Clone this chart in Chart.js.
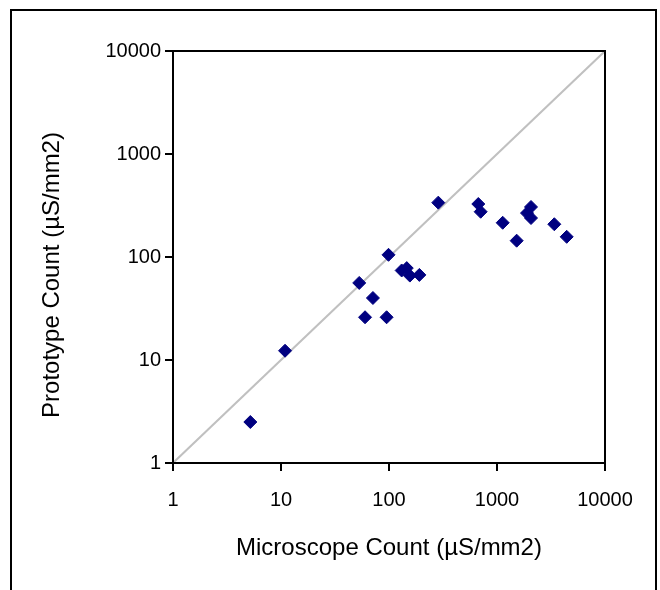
<!DOCTYPE html>
<html lang="en">

<head>
  <meta charset="UTF-8">
  <script src="https://cdn.jsdelivr.net/npm/chart.js"></script>
  <title>Microscope vs Prototype Count</title>
  <style>
    body { margin: 0; background: #fff; }
  </style>
</head>

<body>
  <canvas id="graficoContagem" width="660" height="590"></canvas>

<script>
  // values (µS/mm2)
  const microscopeCount = [5.2, 10.9, 53, 71, 60, 95, 99, 131, 146, 156, 191, 286, 671, 706, 1129, 1521, 2065, 1896, 2065, 3394, 4420];
  const prototypeCount = [2.5, 12.3, 56, 40, 26, 26, 105, 74, 78, 66, 67, 337, 327, 275, 215, 144, 306, 267, 239, 208, 157];
  const axisTicks = [1, 10, 100, 1000, 10000];
  const parityLine = [1, 10000];

  const familia = "'Liberation Sans', Arial, sans-serif";
  const fonteTicks = { family: familia, size: 20 };
  const fonteTitulo = { family: familia, size: 24 };

  // outer frame, box around the plot area and the y title (sits a bit below the middle)
  const molduraPlugin = {
    id: 'moldura',
    afterDraw(chart) {
      const ctx = chart.ctx;
      const a = chart.chartArea;
      ctx.save();
      ctx.strokeStyle = '#000';
      ctx.lineWidth = 2;
      ctx.strokeRect(a.left, a.top, a.right - a.left, a.bottom - a.top);
      ctx.strokeRect(11, 10, 645, 620);

      ctx.translate(52, (a.top + a.bottom) / 2 + 18);
      ctx.rotate(-Math.PI / 2);
      ctx.fillStyle = '#000';
      ctx.font = fonteTitulo.size + 'px ' + familia;
      ctx.textAlign = 'center';
      ctx.textBaseline = 'middle';
      ctx.fillText('Prototype Count (µS/mm2)', 0, 0);
      ctx.restore();
    }
  };

  function fixarTicks(scale) {
    scale.ticks = axisTicks.map(v => ({ value: v }));
  }

  const graficoContagem = new Chart(document.getElementById('graficoContagem').getContext('2d'), {
    type: 'scatter',
    data: {
      datasets: [{
        label: 'Parity',
        data: parityLine.map(v => ({ x: v, y: v })),
        showLine: true,
        borderColor: '#c0c0c0',
        borderWidth: 2,
        pointRadius: 0,
        order: 2
      }, {
        label: 'Counts',
        data: microscopeCount.map((v, i) => ({ x: v, y: prototypeCount[i] })),
        pointStyle: 'rectRot',
        pointRadius: 6.5,
        backgroundColor: '#000080',
        borderColor: '#000080',
        borderWidth: 1,
        order: 1
      }]
    },
    options: {
      responsive: false,
      animation: false,
      layout: { padding: { top: 51, right: 55, left: 0, bottom: 0 } },
      plugins: {
        legend: { display: false },
        tooltip: { enabled: false }
      },
      scales: {
        x: {
          type: 'logarithmic',
          min: 1,
          max: 10000,
          afterBuildTicks: fixarTicks,
          afterFit: s => { s.height = 127; },
          grid: { drawOnChartArea: false, drawTicks: true, tickLength: 8, color: '#000', lineWidth: 2 },
          border: { display: true, color: '#000', width: 2 },
          ticks: { color: '#000', font: fonteTicks, padding: 17, maxRotation: 0, callback: v => String(v) },
          title: {
            display: true,
            text: 'Microscope Count (µS/mm2)',
            color: '#000',
            font: fonteTitulo,
            padding: { top: 0, bottom: 27 }
          }
        },
        y: {
          type: 'logarithmic',
          min: 1,
          max: 10000,
          afterBuildTicks: fixarTicks,
          afterFit: s => { s.width = 173; },
          grid: { drawOnChartArea: false, drawTicks: true, tickLength: 8, color: '#000', lineWidth: 2 },
          border: { display: true, color: '#000', width: 2 },
          ticks: { color: '#000', font: fonteTicks, padding: 4, callback: v => String(v) },
          title: { display: false }
        }
      }
    },
    plugins: [molduraPlugin]
  });
</script>
</body>

</html>
